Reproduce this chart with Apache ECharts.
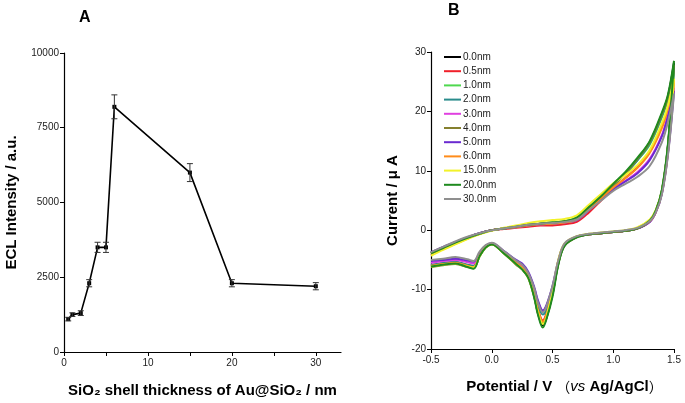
<!DOCTYPE html>
<html><head><meta charset="utf-8">
<script src="https://cdn.jsdelivr.net/npm/echarts@6/dist/echarts.min.js"></script>
<style>html,body{margin:0;padding:0;background:#fff}#c{width:685px;height:403px}</style>
</head><body><div id="c"></div><script>
// ---------- Panel A data ----------
const thickness = [0.5, 1, 2, 3, 4, 5, 6, 15, 20, 30];
const eclIntensity = [1100, 1250, 1300, 2300, 3500, 3500, 8200, 6000, 2300, 2200];
const eclError = [60, 60, 80, 120, 170, 170, 400, 300, 120, 120];
const aYTicks = [0, 2500, 5000, 7500, 10000];
const aXTicks = [0, 5, 10, 15, 20, 25, 30];
const aXLabels = [0, 10, 20, 30];

// ---------- Panel B data ----------
const bXTicks = [-0.5, 0, 0.5, 1, 1.5];
const bYTicks = [-20, -10, 0, 10, 20, 30];
const forwardPotential = [-0.5,-0.4,-0.3,-0.2,-0.1,0,0.1,0.2,0.3,0.4,0.5,0.6,0.7,0.8,0.9,1.0,1.1,1.2,1.3,1.4,1.45,1.5];
const reversePotential = [1.45,1.4,1.35,1.3,1.2,1.1,1.0,0.9,0.8,0.7,0.6,0.55,0.5,0.45,0.42,0.38,0.35,0.3,0.25,0.2,0.1,0,-0.05,-0.1,-0.15,-0.2,-0.3,-0.4,-0.5];
const cvLabels = ['0.0nm','0.5nm','1.0nm','2.0nm','3.0nm','4.0nm','5.0nm','6.0nm','15.0nm','20.0nm','30.0nm'];

const cv00Fwd = [-3.8,-2.9,-2.0,-1.2,-0.5,0.0,0.3,0.6,0.9,1.1,1.2,1.4,2.0,3.8,5.6,7.6,9.6,12.0,14.8,19.5,22.5,28.2];
const cv00Rev = [14.2,6.6,3.2,1.5,0.3,-0.1,-0.3,-0.5,-0.7,-1.1,-2.5,-5.4,-10.8,-14.8,-16.0,-14.0,-11.2,-7.8,-6.4,-5.6,-3.8,-2.3,-2.8,-4.3,-6.3,-6.0,-5.5,-5.7,-6.0];
const cv05Fwd = [-4.2,-3.2,-2.3,-1.4,-0.6,0.0,0.2,0.4,0.6,0.8,0.8,1.0,1.4,3.0,5.0,7.0,8.8,10.6,13.2,17.5,20.5,25.5];
const cv05Rev = [13.5,6.3,3.1,1.5,0.3,-0.1,-0.3,-0.5,-0.7,-1.1,-2.4,-5.2,-10.2,-14.0,-15.2,-13.2,-10.6,-7.6,-6.2,-5.4,-3.7,-2.3,-2.8,-4.2,-6.1,-5.9,-5.4,-5.6,-5.9];
const cv10Fwd = [-3.9,-3.0,-2.1,-1.3,-0.6,0.0,0.3,0.6,0.9,1.1,1.3,1.5,2.1,3.8,5.6,7.6,9.5,11.8,14.4,19.0,22.0,27.0];
const cv10Rev = [14.0,6.5,3.2,1.5,0.3,-0.1,-0.3,-0.5,-0.7,-1.1,-2.5,-5.4,-10.6,-14.4,-15.6,-13.6,-11.0,-7.8,-6.3,-5.5,-3.8,-2.3,-2.8,-4.3,-6.2,-6.0,-5.5,-5.7,-6.0];
const cv20Fwd = [-3.8,-2.9,-2.0,-1.2,-0.5,0.0,0.3,0.6,0.9,1.1,1.2,1.4,1.9,3.7,5.5,7.5,9.5,11.8,14.6,19.2,22.2,27.5];
const cv20Rev = [14.0,6.5,3.2,1.5,0.3,-0.1,-0.3,-0.5,-0.7,-1.1,-2.4,-5.2,-10.0,-13.4,-14.2,-12.6,-10.4,-7.6,-6.2,-5.4,-3.7,-2.3,-2.8,-4.2,-6.0,-5.8,-5.3,-5.5,-5.8];
const cv30Fwd = [-3.8,-2.9,-2.0,-1.2,-0.5,0.0,0.3,0.5,0.8,1.0,1.1,1.3,1.7,3.4,5.2,6.9,8.3,9.8,12.0,16.0,19.5,24.0];
const cv30Rev = [13.0,6.2,3.0,1.4,0.3,-0.1,-0.3,-0.5,-0.7,-1.1,-2.3,-5.0,-9.6,-12.8,-13.6,-12.0,-9.8,-7.2,-5.9,-5.2,-3.6,-2.2,-2.7,-4.0,-5.6,-5.4,-5.0,-5.2,-5.5];
const cv40Fwd = [-3.9,-3.0,-2.1,-1.3,-0.6,0.0,0.3,0.6,0.9,1.1,1.3,1.5,2.0,3.8,5.6,7.6,9.6,12.0,14.8,19.5,22.4,27.8];
const cv40Rev = [14.2,6.6,3.2,1.5,0.3,-0.1,-0.3,-0.5,-0.7,-1.2,-2.6,-5.5,-10.8,-14.6,-15.8,-13.8,-11.2,-8.0,-6.6,-5.8,-3.9,-2.4,-2.9,-4.4,-6.4,-6.2,-5.7,-5.9,-6.2];
const cv50Fwd = [-3.7,-2.8,-2.0,-1.2,-0.5,0.0,0.3,0.5,0.8,1.0,1.1,1.3,1.7,3.4,5.2,6.9,8.2,9.6,11.8,15.8,19.2,23.5];
const cv50Rev = [12.8,6.1,3.0,1.4,0.3,-0.1,-0.3,-0.5,-0.7,-1.1,-2.3,-5.0,-9.4,-12.6,-13.5,-11.8,-9.6,-7.0,-5.6,-5.0,-3.5,-2.2,-2.6,-3.8,-5.3,-5.1,-4.8,-5.0,-5.2];
const cv60Fwd = [-3.9,-3.0,-2.1,-1.3,-0.6,0.0,0.3,0.5,0.8,1.0,1.1,1.3,1.8,3.5,5.4,7.2,8.8,10.5,13.0,17.2,20.5,25.0];
const cv60Rev = [13.2,6.3,3.1,1.5,0.3,-0.1,-0.3,-0.5,-0.7,-1.1,-2.4,-5.2,-10.4,-14.2,-15.4,-13.4,-10.8,-7.7,-6.3,-5.5,-3.8,-2.3,-2.8,-4.3,-6.2,-6.0,-5.5,-5.7,-6.0];
const cv150Fwd = [-4.3,-3.3,-2.4,-1.5,-0.7,-0.1,0.4,0.8,1.2,1.5,1.7,1.9,2.5,4.3,6.1,7.9,9.3,11.0,13.5,18.0,21.0,25.5];
const cv150Rev = [13.8,6.6,3.4,1.8,0.5,0.0,-0.2,-0.4,-0.6,-1.0,-2.2,-4.8,-10.2,-14.6,-15.8,-13.8,-11.2,-8.0,-6.5,-5.7,-3.9,-2.4,-2.9,-4.4,-6.3,-6.1,-5.6,-5.8,-6.1];
const cv200Fwd = [-3.9,-3.0,-2.1,-1.3,-0.6,0.0,0.3,0.6,0.9,1.1,1.3,1.5,2.1,3.9,5.7,7.8,9.8,12.2,15.0,19.8,22.8,28.5];
const cv200Rev = [14.5,6.8,3.3,1.6,0.3,-0.1,-0.3,-0.5,-0.7,-1.2,-2.6,-5.6,-11.2,-15.0,-16.4,-14.2,-11.4,-8.0,-6.6,-5.7,-3.9,-2.4,-2.9,-4.4,-6.5,-6.2,-5.6,-5.8,-6.1];
const cv300Fwd = [-3.7,-2.8,-1.9,-1.1,-0.5,0.0,0.3,0.6,0.9,1.1,1.2,1.4,1.8,3.4,5.0,6.6,7.8,9.0,10.8,14.8,18.2,23.0];
const cv300Rev = [12.6,6.0,3.0,1.5,0.4,0.0,-0.2,-0.4,-0.6,-1.0,-2.2,-4.9,-9.4,-12.8,-13.8,-12.2,-9.8,-7.2,-5.8,-5.1,-3.5,-2.1,-2.5,-3.6,-5.2,-4.9,-4.5,-4.8,-5.0];

const cvForward = [cv00Fwd, cv05Fwd, cv10Fwd, cv20Fwd, cv30Fwd, cv40Fwd, cv50Fwd, cv60Fwd, cv150Fwd, cv200Fwd, cv300Fwd];
const cvReverse = [cv00Rev, cv05Rev, cv10Rev, cv20Rev, cv30Rev, cv40Rev, cv50Rev, cv60Rev, cv150Rev, cv200Rev, cv300Rev];

// ---------- styling ----------
const cvColors = ['#000000','#f0202a','#4fd84f','#2a8c8c','#e040e0','#85802e','#6a2ad0','#ff8c1a','#f2f22a','#1f8a1f','#8f8f8f'];
const FONT = 'Liberation Sans, Arial, Noto Sans CJK SC, sans-serif';
const tickFont = {fontFamily: FONT, fontSize: 10, color: '#222'};
const nameFont = {fontFamily: FONT, fontSize: 15, fontWeight: 'bold', color: '#000'};

const chart = echarts.init(document.getElementById('c'), null, {renderer: 'canvas'});

function axisCommon() {
  return {
    axisLine: {show: true, onZero: false, lineStyle: {color: '#000', width: 1.2}},
    axisTick: {show: true, inside: false, length: 4, lineStyle: {color: '#000', width: 1}},
    splitLine: {show: false}
  };
}

const cvSeries = cvLabels.map((name, k) => ({
  name: name,
  type: 'line',
  xAxisIndex: 1, yAxisIndex: 1,
  symbol: 'none',
  smooth: 0.35,
  lineStyle: {color: cvColors[k], width: 2},
  itemStyle: {color: cvColors[k]},
  z: 3,
  data: forwardPotential.map((v, i) => [v, cvForward[k][i]])
        .concat(reversePotential.map((v, i) => [v, cvReverse[k][i]]))
}));

const option = {
  animation: false,
  backgroundColor: '#fff',
  title: [
    {text: 'A', left: 74, top: 5, textStyle: {fontFamily: FONT, fontSize: 16, fontWeight: 'bold', color: '#000'}},
    {text: 'B', left: 443, top: -2, textStyle: {fontFamily: FONT, fontSize: 16, fontWeight: 'bold', color: '#000'}}
  ],
  legend: {
    data: cvLabels,
    orient: 'vertical',
    left: 444, top: 51, padding: 0,
    icon: 'rect',
    itemWidth: 17, itemHeight: 2, itemGap: 2.2,
    textStyle: {fontFamily: FONT, fontSize: 10, color: '#222', lineHeight: 12, padding: [0,0,0,-3]}
  },
  grid: [
    {left: 64, top: 53, width: 277, height: 299},
    {left: 431, top: 52, width: 243, height: 297}
  ],
  xAxis: [
    Object.assign(axisCommon(), {
      gridIndex: 0, type: 'value', min: 0, max: 33,
      axisTick: {show: true, length: 4, customValues: aXTicks, lineStyle: {color: '#000'}},
      axisLabel: Object.assign({customValues: aXLabels, margin: 6}, tickFont),
      name: 'SiO₂ shell thickness of Au@SiO₂ / nm',
      nameLocation: 'middle', nameGap: 31,
      nameTextStyle: nameFont
    }),
    Object.assign(axisCommon(), {
      gridIndex: 1, type: 'value', min: -0.5, max: 1.5, interval: 0.5,
      axisLabel: Object.assign({margin: 6, formatter: v => v.toFixed(1)}, tickFont),
      name: '{b|Potential / V }{p|（}{i|vs}{b| Ag/AgCl}{p|）}',
      nameLocation: 'middle', nameGap: 30,
      nameTextStyle: {
        padding: [0, 0, 0, 24],
        rich: {
          b: {fontFamily: FONT, fontSize: 15, fontWeight: 'bold', color: '#000'},
          i: {fontFamily: FONT, fontSize: 15, fontStyle: 'italic', color: '#000'},
          p: {fontFamily: 'Noto Sans CJK SC, sans-serif', fontSize: 14, color: '#000'}
        }
      }
    })
  ],
  yAxis: [
    Object.assign(axisCommon(), {
      gridIndex: 0, type: 'value', min: 0, max: 10000, interval: 2500,
      axisLabel: Object.assign({margin: 5, formatter: v => String(v)}, tickFont),
      name: 'ECL Intensity / a.u.',
      nameLocation: 'middle', nameGap: 45,
      nameTextStyle: nameFont
    }),
    Object.assign(axisCommon(), {
      gridIndex: 1, type: 'value', min: -20, max: 30, interval: 10,
      axisLabel: Object.assign({margin: 5, formatter: v => String(v)}, tickFont),
      name: 'Current / μ A',
      nameLocation: 'middle', nameGap: 31,
      nameTextStyle: nameFont
    })
  ],
  series: [
    {
      type: 'line', xAxisIndex: 0, yAxisIndex: 0,
      symbol: 'rect', symbolSize: 4,
      lineStyle: {color: '#000', width: 1.6},
      itemStyle: {color: '#000'},
      data: thickness.map((t, i) => [t, eclIntensity[i]]),
      z: 3
    },
    {
      type: 'custom', xAxisIndex: 0, yAxisIndex: 0,
      data: thickness.map((t, i) => [t, eclIntensity[i], eclError[i]]),
      renderItem: function (params, api) {
        const x = api.value(0), y = api.value(1), e = api.value(2);
        const top = api.coord([x, y + e]);
        const bot = api.coord([x, y - e]);
        const w = 3;
        const st = {stroke: '#333', lineWidth: 1};
        return {type: 'group', children: [
          {type: 'line', shape: {x1: top[0], y1: top[1], x2: bot[0], y2: bot[1]}, style: st},
          {type: 'line', shape: {x1: top[0]-w, y1: top[1], x2: top[0]+w, y2: top[1]}, style: st},
          {type: 'line', shape: {x1: bot[0]-w, y1: bot[1], x2: bot[0]+w, y2: bot[1]}, style: st}
        ]};
      },
      z: 4
    }
  ].concat(cvSeries)
};
chart.setOption(option);
</script></body></html>
